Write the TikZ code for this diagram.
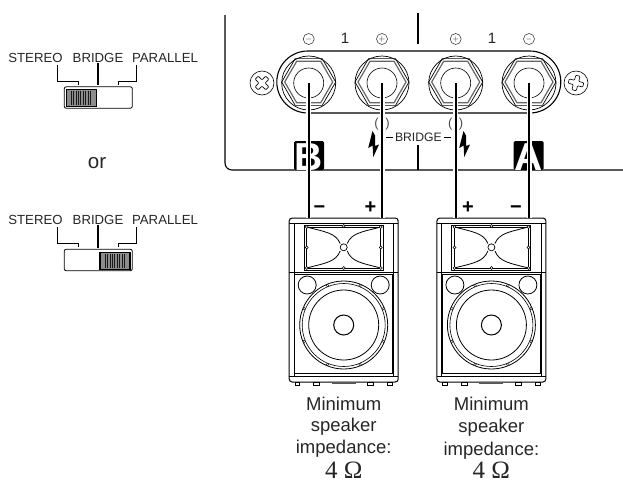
\documentclass[tikz,border=0pt]{standalone}
\usepackage{fontspec}
\setmainfont{Liberation Sans}
\newfontfamily\omegafont{Liberation Serif}
\usetikzlibrary{shapes.geometric}
\usetikzlibrary{positioning}
\begin{document}
\begin{tikzpicture}[
        x=1pt,y=-1pt,
        lbl/.style={font=\fontsize{13.2}{15}\selectfont, text=black!85, inner sep=0pt},
        note/.style={font=\fontsize{18.5}{21.5}\selectfont, text=black!85, align=center, inner sep=0pt},
        ohm/.style={font=\omegafont\fontsize{25}{27}\selectfont, text=black!85, inner sep=0pt},
        swbox/.style={draw, rounded corners=2pt, line width=0.8pt, minimum width=68pt, minimum height=21.5pt, inner sep=0pt},
        swknob/.style={draw, line width=1.3pt, minimum width=30pt, minimum height=17pt, inner sep=0pt, fill=black!45},
        sel/.style={line width=0.8pt},
        ring/.style={circle, draw, line width=0.7pt, minimum size=54pt, inner sep=0pt},
        nut/.style={regular polygon, regular polygon sides=6, draw, line width=0.7pt, inner sep=0pt},
        pol/.style={circle, draw=black!85, line width=0.5pt, minimum size=11pt, inner sep=0pt, font=\fontsize{8}{8}\selectfont, text=black!85},
        screw/.style={circle, draw, line width=0.6pt, minimum size=24pt, inner sep=0pt},
        cable/.style={line width=1.7pt, preaction={draw=white, line width=5pt}},
        box/.style={draw, rounded corners=3pt, line width=1pt, minimum width=109pt, minimum height=164pt, inner sep=0pt},
        spsign/.style={font=\bfseries\fontsize{20}{20}\selectfont, inner sep=0pt}
    ]
    \useasboundingbox (0,0) rectangle (623,485);

    % switch, upper
    \node[lbl] (st1) at (35.5,58) {STEREO};
    \node[lbl] (br1) at (98,58) {BRIDGE};
    \node[lbl] (pa1) at (165,58) {PARALLEL};
    \node[swbox] (sw1) at (98.3,97.5) {};
    \node[swknob] (kn1) at (81.2,98) {};
    \foreach \i in {0,...,8}
        \draw[black!90, line width=0.5pt] (71+\i*2.4,91) -- (71+\i*2.4,105);
    \draw[sel] (57.7,65) -- (57.7,81) -- (78.3,81) -- (78.3,85);
    \draw[line width=1.4pt] (br1.south) -- (98,85);
    \draw[sel] (136.7,65) -- (136.7,81) -- (118.7,81) -- (118.7,85);

    \node[font=\fontsize{20.5}{22}\selectfont, inner sep=0pt, text=black!85] (orlabel) at (97,163) {or};

    % switch, lower
    \node[lbl] (st2) at (35.5,220) {STEREO};
    \node[lbl] (br2) at (98,220) {BRIDGE};
    \node[lbl] (pa2) at (165,220) {PARALLEL};
    \node[swbox] (sw2) at (98.3,260) {};
    \node[swknob] (kn2) at (115,261) {};
    \foreach \i in {0,...,8}
        \draw[black!90, line width=0.5pt] (105+\i*2.4,254) -- (105+\i*2.4,268);
    \draw[sel] (57.7,227) -- (57.7,243) -- (78.3,243) -- (78.3,247);
    \draw[line width=1.4pt] (br2.south) -- (98,248);
    \draw[sel] (136.7,227) -- (136.7,243) -- (118.7,243) -- (118.7,247);

    % amp panel
    \draw[line width=1.1pt, rounded corners=7pt] (225,15) -- (225,170) -- (623,170);
    \draw[line width=1.1pt] (418,13) -- (418,44);
    \draw[line width=1.1pt] (418,145) -- (418,170);
    \node[draw, rounded corners=31pt, line width=1.1pt, minimum width=284pt, minimum height=62pt, inner sep=0pt] (plate) at (418.8,82) {};

    % channel blocks
    \node[fill=black, rounded corners=1.5pt, minimum width=30pt, minimum height=29pt, inner sep=0pt] (blockb) at (309,155.5) {};
    \node[fill=black, rounded corners=1.5pt, minimum width=30pt, minimum height=29pt, inner sep=0pt] (blocka) at (528.5,155.5) {};
    \begin{scope}
        \clip (294,141) rectangle (543,170);
        \node[text=white, font=\bfseries\fontsize{39}{39}\selectfont, inner sep=0pt] (letb) at (309,157) {B};
        \node[text=white, font=\bfseries\fontsize{39}{39}\selectfont, inner sep=0pt] (leta) at (528.5,157) {A};
    \end{scope}

    % terminals
    \foreach \n/\x in {1/308.7, 2/382, 3/455.7, 4/529} {
        \node[ring] (t\n) at (\x,83) {};
        \node[nut, minimum size=54pt] (h\n) at (\x,82) {};
        \node[nut, minimum size=48pt, line width=1.2pt, draw=black!60] (k\n) at (\x,82) {};
        \node[circle, draw, line width=0.6pt, minimum size=30pt, inner sep=0pt] (c\n) at (\x,83) {};
    }
    \node[pol] (p1) at (308.7,39) {$-$};
    \node[pol] (p2) at (382,39) {$+$};
    \node[pol] (p3) at (455.7,39) {$+$};
    \node[pol] (p4) at (529,39) {$-$};
    \node[font=\fontsize{15}{15}\selectfont, text=black!85, inner sep=0pt] (one1) at (345,38) {1};
    \node[font=\fontsize{15}{15}\selectfont, text=black!85, inner sep=0pt] (one2) at (492,38) {1};

    % screws
    \node[screw] (s1) at (262,83) {};
    \node[screw] (s2) at (576,83) {};
    \foreach \sx/\rot in {262/45, 576/-15}
        \draw[line width=0.6pt, shift={(\sx,83)}, rotate=\rot, rounded corners=0.8pt]
            (-2.2,-7.5) -- (2.2,-7.5) -- (2.2,-2.2) -- (7.5,-2.2) -- (7.5,2.2) -- (2.2,2.2) -- (2.2,7.5)
            -- (-2.2,7.5) -- (-2.2,2.2) -- (-7.5,2.2) -- (-7.5,-2.2) -- (-2.2,-2.2) -- cycle;

    % bridge marks
    \node[font=\fontsize{12.2}{14}\selectfont, text=black!85, inner sep=0pt] (bridge) at (418.4,137) {BRIDGE};
    \draw[line width=0.6pt] ([xshift=-1.5pt]bridge.west) -- ++(-7.5,0);
    \draw[line width=0.6pt] ([xshift=2pt]bridge.east) -- ++(7.5,0);
    \node[font=\fontsize{13}{14}\selectfont, text=black!70, inner sep=0pt] (pl) at (382,124.5) {(\,\,\,)};
    \node[font=\fontsize{13}{14}\selectfont, text=black!70, inner sep=0pt] (pr) at (455.7,124.5) {(\,\,\,)};
    \foreach \bx in {0,91}
        \fill[shift={(\bx,0)}] (372.5,131) -- (368.2,148) -- (372.6,145.5) -- (373.2,157) -- (379,144.5) -- (375,146) -- (375,135.5) -- cycle;

    % speakers
    \foreach \n/\x in {1/343.7, 2/491.4} {
        \node[box] (spk\n) at (\x,300) {};
        \begin{scope}[shift={(\x,0)}]
            \draw[line width=0.7pt] (-54.5,223) -- (54.5,223);
            \draw[line width=0.7pt] (-49.7,223) -- (-49.7,377) (49.7,223) -- (49.7,377);
            \draw[line width=0.9pt] (-39.5,225) rectangle (39.5,270);
            \draw[line width=0.7pt] (-37,227) rectangle (37,268);
            \draw[line width=0.8pt] (-37,227) .. controls (-18,232) and (-8,233) .. (-3.5,243.5)
                (-37,268) .. controls (-18,263) and (-8,262) .. (-3.5,251)
                (37,227) .. controls (18,232) and (8,233) .. (3.5,243.5)
                (37,268) .. controls (18,263) and (8,262) .. (3.5,251);
            \draw[line width=0.7pt] (0,247.3) circle (3.5pt);
            \foreach \sa/\sb in {-37/227, 0/226, 37/227, -37/247.5, 37/247.5, -37/268, 0/268, 37/268}
                \draw[line width=0.5pt, fill=white] (\sa,\sb) circle (1.5pt);
            \draw[line width=1pt] (-54.5,272) -- (54.5,272);
            \draw[line width=0.8pt] (-49,274) rectangle (49,373);
            \draw[line width=0.7pt] (-54.5,376) -- (54.5,376);
            \draw[line width=0.8pt] (-36.5,285) circle (9pt) (36.5,285) circle (9pt);
            \draw[line width=0.8pt, fill=white] (0,325) circle (44pt);
            \draw[line width=0.6pt] (0,325) circle (41.5pt);
            \draw[line width=0.8pt] (0,325) circle (35pt);
            \draw[line width=1pt] (0,325) circle (10pt);
            \foreach \ang in {22.5,67.5,...,337.5}
                \draw[line width=0.4pt, fill=white] (\ang:42.8) ++(0,325) circle (1.3pt);
            \foreach \fa/\fb in {-48.7/-44, -30/-24, 24/30, 44/48.7}
                \draw[line width=0.7pt] (\fa,382) rectangle (\fb,385);
            \fill[black!65] (-12,382) rectangle (12,384);
        \end{scope}
    }

    % cables
    \foreach \n/\s in {1/1, 2/1, 3/2, 4/2}
        \draw[cable] (t\n.center) -- (t\n.center |- spk\s.north);

    \node[spsign] (m1) at (319.5,209.5) {\textminus};
    \node[spsign] (a1) at (370.5,207.5) {+};
    \node[spsign] (a2) at (468,207.5) {+};
    \node[spsign] (m2) at (516,209.5) {\textminus};

    % impedance notes
    \node[note, below=14pt of spk1] (n1) {Minimum\\speaker\\impedance:};
    \node[ohm, below=5pt of n1] (o1) {4 Ω};
    \node[note, font=\fontsize{18.5}{22.5}\selectfont, below=14pt of spk2] (n2) {Minimum\\speaker\\impedance:};
    \node[ohm, below=3pt of n2] (o2) {4 Ω};
\end{tikzpicture}
\end{document}
